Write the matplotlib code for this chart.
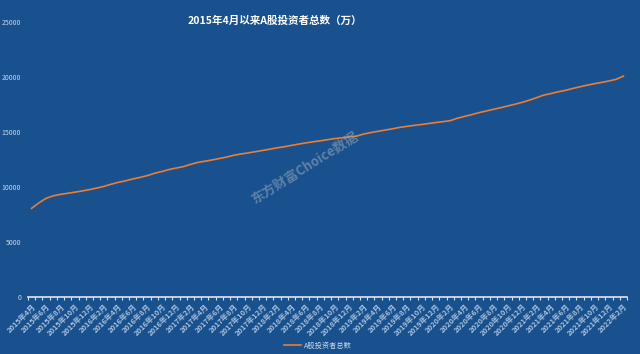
import matplotlib
matplotlib.use("Agg")
import matplotlib.pyplot as plt
import numpy as np

plt.rcParams['font.family'] = ['Noto Sans CJK SC', 'DejaVu Sans']

# ========== DATOS ==========
start_year, start_month = 2015, 4
investors = [
    8060, 8550, 8970, 9200, 9330, 9430, 9530, 9640, 9760, 9900,
    10050, 10250, 10420, 10560, 10730, 10870, 11030, 11240, 11400, 11580,
    11720, 11850, 12050, 12230, 12340, 12460, 12590, 12720, 12880, 13000,
    13100, 13210, 13320, 13440, 13560, 13660, 13780, 13900, 14010, 14110,
    14200, 14300, 14400, 14470, 14560, 14620, 14810, 14950, 15060, 15180,
    15290, 15420, 15510, 15600, 15680, 15770, 15860, 15940, 16030, 16250,
    16420, 16580, 16760, 16910, 17060, 17210, 17370, 17530, 17700, 17900,
    18130, 18360, 18500, 18660, 18790, 18960, 19110, 19260, 19390, 19510,
    19640, 19790, 20080,
]
months = []
for i in range(len(investors)):
    m = start_month - 1 + i
    months.append(f"{start_year + m // 12}年{m % 12 + 1}月")

y_ticks = [0, 5000, 10000, 15000, 20000, 25000]
title = "2015年4月以来A股投资者总数（万）"
series_name = "A股投资者总数"

BG = '#18518e'
LINE = '#ed7d31'
TXT = '#c9d7e8'

fig = plt.figure(figsize=(6.4, 3.54), dpi=100, facecolor=BG)
ax = fig.add_axes([28 / 640, 1 - 297 / 354, 599 / 640, 275 / 354], facecolor=BG)

x = np.arange(len(investors))
ax.plot(x, investors, color=LINE, linewidth=1.2, label=series_name)

ax.set_xlim(-0.5, len(investors) - 0.5)
ax.set_ylim(0, 25000)

# eje x: ticks en los bordes de cada categoría, etiquetas cada 2 meses
ax.set_xticks(np.arange(len(investors) + 1) - 0.5, minor=True)
ax.set_xticks(x[::2])
ax.set_xticklabels(months[::2], rotation=45, ha='right', va='top',
                   rotation_mode='anchor', fontsize=5.4, color='#a9c0dc',
                   fontweight='bold')
ax.tick_params(axis='x', which='major', length=0, pad=4)
ax.tick_params(axis='x', which='minor', length=2.5, color='#dfe6ef', width=0.8)

ax.set_yticks(y_ticks)
ax.set_yticklabels([str(v) for v in y_ticks], fontsize=5, color=TXT)
ax.tick_params(axis='y', length=0, pad=5)

for side in ['top', 'right', 'left']:
    ax.spines[side].set_visible(False)
ax.spines['bottom'].set_color('#dfe6ef')
ax.spines['bottom'].set_linewidth(1.2)

fig.text(275 / 640, 1 - 21 / 354, title, ha='center', va='center',
         fontsize=7.6, fontweight='bold', color='white')

# marca de agua
fig.text(305 / 640, 1 - 168 / 354, "东方财富Choice数据", ha='center', va='center',
         rotation=32, fontsize=9.5, fontweight='bold', fontstyle='italic',
         color='#9aa9ba', alpha=0.55)

leg = fig.legend(loc='center', bbox_to_anchor=(318 / 640, 1 - 346 / 354),
                 frameon=False, fontsize=5.2, handlelength=2.4, handletextpad=0.4)
for t in leg.get_texts():
    t.set_color(TXT)

fig.savefig("out.png", dpi=100, facecolor=BG)
